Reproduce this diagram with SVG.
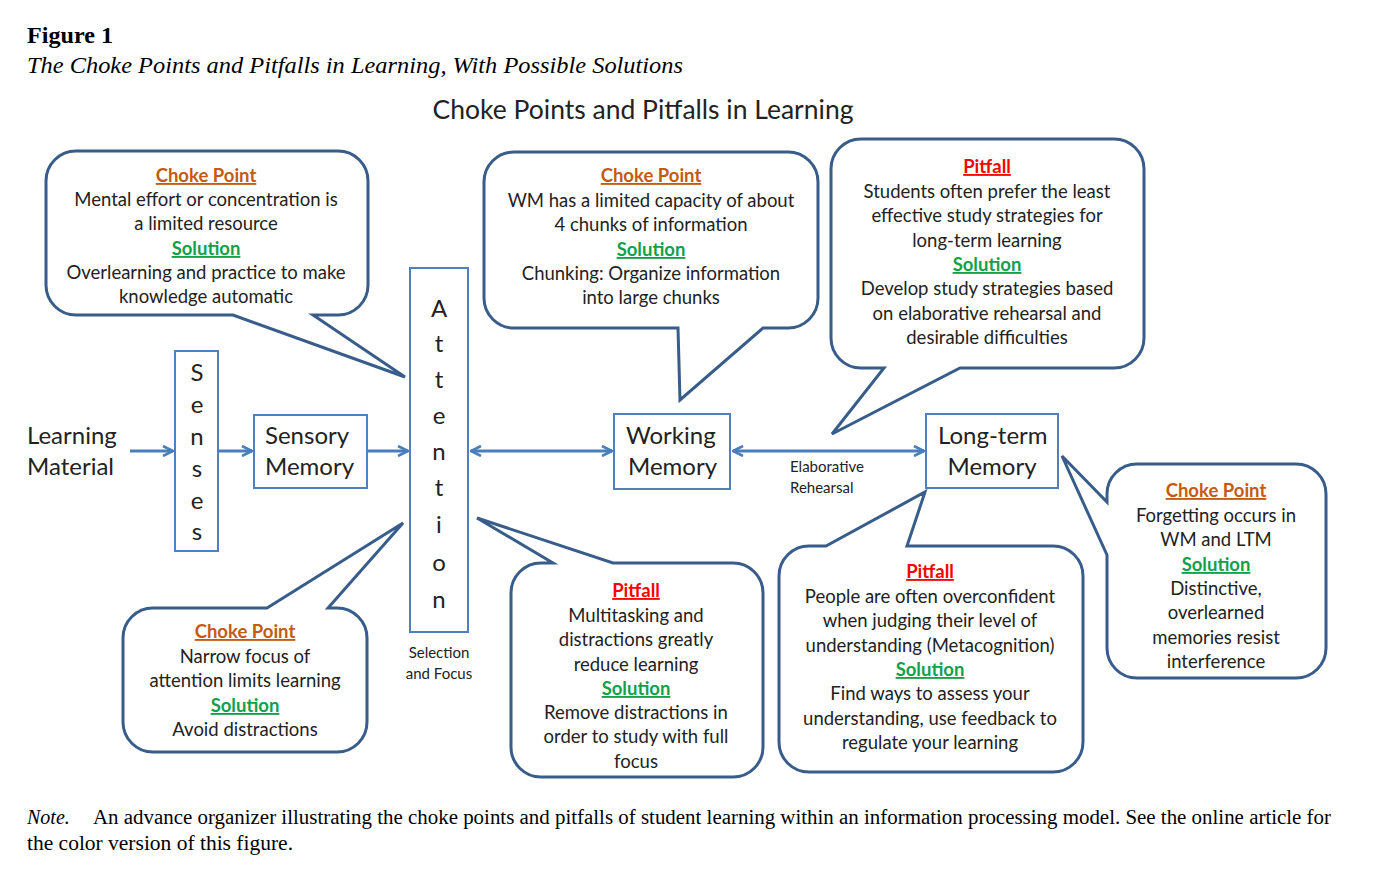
<svg xmlns="http://www.w3.org/2000/svg" width="1388" height="896" viewBox="0 0 1388 896">
<defs>
<style>
.serif{font-family:"Liberation Serif","Times New Roman",serif;fill:#000}
.t{font-family:Lato,"Open Sans","Liberation Sans",sans-serif;fill:#222;text-anchor:middle}
.c{font-size:18.5px}
.cp{fill:#C55A11;text-decoration:underline;font-weight:bold}
.sol{fill:#12A04A;text-decoration:underline;font-weight:bold}
.pit{fill:#FF0000;text-decoration:underline;font-weight:bold}
.callout{fill:#fff;stroke:#385D8A;stroke-width:3;stroke-linejoin:miter}
.node{fill:#fff;stroke:#4F81BD;stroke-width:2}
.big{font-size:24px}
.small{font-size:15px}
.conn{stroke:#4A7EBB;stroke-width:3;fill:none}
</style>
<marker id="ah" viewBox="0 0 12 12" refX="11" refY="6" markerWidth="12" markerHeight="12" markerUnits="userSpaceOnUse" orient="auto-start-reverse">
<path d="M1,1 L11,6 L1,11" fill="none" stroke="#4A7EBB" stroke-width="2.6"/>
</marker>
</defs>
<rect width="1388" height="896" fill="#fff"/>

<text class="serif" x="27" y="43" font-size="23" font-weight="bold" textLength="86" lengthAdjust="spacingAndGlyphs">Figure 1</text>
<text class="serif" x="27" y="73" font-size="23" font-style="italic" textLength="656" lengthAdjust="spacingAndGlyphs">The Choke Points and Pitfalls in Learning, With Possible Solutions</text>
<text class="t" x="643" y="119" font-size="26.5">Choke Points and Pitfalls in Learning</text>

<g id="connectors">
<line class="conn" x1="130" y1="451" x2="173" y2="451" marker-end="url(#ah)"/>
<line class="conn" x1="219" y1="451" x2="252" y2="451" marker-end="url(#ah)"/>
<line class="conn" x1="368" y1="451" x2="408" y2="451" marker-end="url(#ah)"/>
<line class="conn" x1="471" y1="451" x2="612" y2="451" marker-start="url(#ah)" marker-end="url(#ah)"/>
<line class="conn" x1="733" y1="451" x2="924" y2="451" marker-start="url(#ah)" marker-end="url(#ah)"/>
</g>

<g id="learning-material">
<text class="t big" x="27" y="444" style="text-anchor:start">Learning</text>
<text class="t big" x="27" y="475" style="text-anchor:start">Material</text>
</g>

<g id="senses">
<rect class="node" x="175" y="351" width="43" height="200"/>
<text class="t big" x="197" y="381">S</text>
<text class="t big" x="197" y="413">e</text>
<text class="t big" x="197" y="445">n</text>
<text class="t big" x="197" y="477">s</text>
<text class="t big" x="197" y="509">e</text>
<text class="t big" x="197" y="540">s</text>
</g>

<g id="sensory-memory">
<rect class="node" x="254" y="415" width="113" height="73"/>
<text class="t big" x="265" y="444" style="text-anchor:start">Sensory</text>
<text class="t big" x="265" y="475" style="text-anchor:start">Memory</text>
</g>

<g id="attention">
<rect class="node" x="410" y="268" width="58" height="364"/>
<text class="t big" x="439" y="317">A</text>
<text class="t big" x="439" y="352">t</text>
<text class="t big" x="439" y="388">t</text>
<text class="t big" x="439" y="424">e</text>
<text class="t big" x="439" y="460">n</text>
<text class="t big" x="439" y="496">t</text>
<text class="t big" x="439" y="533">i</text>
<text class="t big" x="439" y="571">o</text>
<text class="t big" x="439" y="608">n</text>
<text class="t small" x="439" y="658">Selection</text>
<text class="t small" x="439" y="679">and Focus</text>
</g>

<g id="working-memory">
<rect class="node" x="614" y="414" width="116" height="75"/>
<text class="t big" x="626" y="444" style="text-anchor:start">Working</text>
<text class="t big" x="628" y="475" style="text-anchor:start">Memory</text>
</g>

<g id="elaborative-rehearsal">
<text class="t small" x="790" y="472" style="text-anchor:start">Elaborative</text>
<text class="t small" x="790" y="493" style="text-anchor:start">Rehearsal</text>
</g>

<g id="long-term-memory">
<rect class="node" x="926" y="414" width="132" height="74"/>
<text class="t big" x="938" y="444" style="text-anchor:start">Long-term</text>
<text class="t big" x="992" y="475">Memory</text>
</g>

<g id="callout-effort">
<path class="callout" d="M76,151 H338 A30,30 0 0 1 368,181 V285 A30,30 0 0 1 338,315 H313 L405,377 L233,315 H76 A30,30 0 0 1 46,285 V181 A30,30 0 0 1 76,151 Z"/>
<text class="t c" x="206" y="182"><tspan class="cp">Choke Point</tspan></text>
<text class="t c" x="206" y="206">Mental effort or concentration is</text>
<text class="t c" x="206" y="230">a limited resource</text>
<text class="t c" x="206" y="255"><tspan class="sol">Solution</tspan></text>
<text class="t c" x="206" y="279">Overlearning and practice to make</text>
<text class="t c" x="206" y="303">knowledge automatic</text>
</g>

<g id="callout-wm-capacity">
<path class="callout" d="M514,152 H788 A30,30 0 0 1 818,182 V298 A30,30 0 0 1 788,328 H763 L680,400 L678,328 H514 A30,30 0 0 1 484,298 V182 A30,30 0 0 1 514,152 Z"/>
<text class="t c" x="651" y="182"><tspan class="cp">Choke Point</tspan></text>
<text class="t c" x="651" y="207">WM has a limited  capacity of about</text>
<text class="t c" x="651" y="231">4 chunks of information</text>
<text class="t c" x="651" y="256"><tspan class="sol">Solution</tspan></text>
<text class="t c" x="651" y="280">Chunking: Organize information</text>
<text class="t c" x="651" y="304">into large chunks</text>
</g>

<g id="callout-study-strategies">
<path class="callout" d="M861,139 H1114 A30,30 0 0 1 1144,169 V338 A30,30 0 0 1 1114,368 H960 L832,434 L884,368 H861 A30,30 0 0 1 831,338 V169 A30,30 0 0 1 861,139 Z"/>
<text class="t c" x="987" y="173"><tspan class="pit">Pitfall</tspan></text>
<text class="t c" x="987" y="198">Students often prefer the least</text>
<text class="t c" x="987" y="222">effective study strategies for</text>
<text class="t c" x="987" y="247">long-term learning</text>
<text class="t c" x="987" y="271"><tspan class="sol">Solution</tspan></text>
<text class="t c" x="987" y="295">Develop study strategies based</text>
<text class="t c" x="987" y="320">on elaborative rehearsal and</text>
<text class="t c" x="987" y="344">desirable difficulties</text>
</g>

<g id="callout-narrow-focus">
<path class="callout" d="M153,608 H267 L403,523 L328,608 H337 A30,30 0 0 1 367,638 V722 A30,30 0 0 1 337,752 H153 A30,30 0 0 1 123,722 V638 A30,30 0 0 1 153,608 Z"/>
<text class="t c" x="245" y="638"><tspan class="cp">Choke Point</tspan></text>
<text class="t c" x="245" y="663">Narrow focus of</text>
<text class="t c" x="245" y="687">attention  limits learning</text>
<text class="t c" x="245" y="712"><tspan class="sol">Solution</tspan></text>
<text class="t c" x="245" y="736">Avoid distractions</text>
</g>

<g id="callout-multitasking">
<path class="callout" d="M541,563 H553 L477,518 L613,563 H733 A30,30 0 0 1 763,593 V747 A30,30 0 0 1 733,777 H541 A30,30 0 0 1 511,747 V593 A30,30 0 0 1 541,563 Z"/>
<text class="t c" x="636" y="597"><tspan class="pit">Pitfall</tspan></text>
<text class="t c" x="636" y="622">Multitasking and</text>
<text class="t c" x="636" y="646">distractions greatly</text>
<text class="t c" x="636" y="671">reduce learning</text>
<text class="t c" x="636" y="695"><tspan class="sol">Solution</tspan></text>
<text class="t c" x="636" y="719">Remove distractions in</text>
<text class="t c" x="636" y="743">order to study with full</text>
<text class="t c" x="636" y="768">focus</text>
</g>

<g id="callout-metacognition">
<path class="callout" d="M809,546 H826 L925,492 L907,546 H1053 A30,30 0 0 1 1083,576 V742 A30,30 0 0 1 1053,772 H809 A30,30 0 0 1 779,742 V576 A30,30 0 0 1 809,546 Z"/>
<text class="t c" x="930" y="578"><tspan class="pit">Pitfall</tspan></text>
<text class="t c" x="930" y="603">People are often overconfident</text>
<text class="t c" x="930" y="627">when judging their level of</text>
<text class="t c" x="930" y="652">understanding (Metacognition)</text>
<text class="t c" x="930" y="676"><tspan class="sol">Solution</tspan></text>
<text class="t c" x="930" y="700">Find ways to assess your</text>
<text class="t c" x="930" y="725">understanding, use feedback to</text>
<text class="t c" x="930" y="749">regulate your learning</text>
</g>

<g id="callout-forgetting">
<path class="callout" d="M1137,464 H1296 A30,30 0 0 1 1326,494 V648 A30,30 0 0 1 1296,678 H1137 A30,30 0 0 1 1107,648 V555 L1062,456 L1107,502 V494 A30,30 0 0 1 1137,464 Z"/>
<text class="t c" x="1216" y="497"><tspan class="cp">Choke Point</tspan></text>
<text class="t c" x="1216" y="522">Forgetting occurs in</text>
<text class="t c" x="1216" y="546">WM and LTM</text>
<text class="t c" x="1216" y="571"><tspan class="sol">Solution</tspan></text>
<text class="t c" x="1216" y="595">Distinctive,</text>
<text class="t c" x="1216" y="619">overlearned</text>
<text class="t c" x="1216" y="644">memories resist</text>
<text class="t c" x="1216" y="668">interference</text>
</g>

<text class="serif" x="27" y="824" font-size="20"><tspan font-style="italic">Note.</tspan><tspan x="93" textLength="1238" lengthAdjust="spacingAndGlyphs">An advance organizer illustrating the choke points and pitfalls of student learning within an information processing model. See the online article for</tspan></text>
<text class="serif" x="27" y="850" font-size="20" textLength="266" lengthAdjust="spacingAndGlyphs">the color version of this figure.</text>
</svg>
